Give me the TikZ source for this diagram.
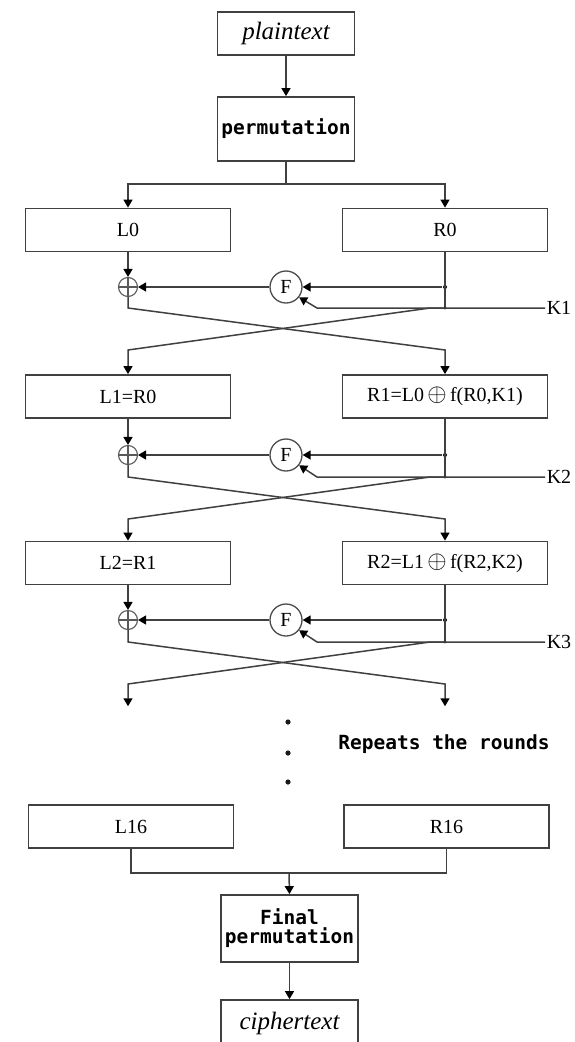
\documentclass[tikz,border=0pt]{standalone}
\usepackage{fontspec}
\setmainfont{Liberation Serif}
\newfontfamily\pixmono{DejaVu Sans Mono}
\usetikzlibrary{arrows.meta}
\newcommand{\bigxor}{{\fontsize{24}{24}\selectfont$\oplus$}}
\begin{document}
\begin{tikzpicture}[x=1pt,y=-1pt,
  line width=1.5pt,
  >={Triangle[width=9pt,length=8pt,fill=black,color=black]},
  link/.style={draw=black!75},
  rbox/.style={draw=black!75, line width=1.8pt, minimum width=205pt, minimum height=43pt, inner sep=0pt, font=\fontsize{20}{24}\selectfont},
  cbox/.style={draw=black!75, line width=1.8pt, minimum width=137pt, inner sep=0pt},
  mono/.style={font=\fontsize{19.5}{22}\selectfont\pixmono\bfseries},
  ital/.style={font=\fontsize{25}{28}\selectfont\itshape},
  xorc/.style={circle, draw=black!65, line width=1.1pt, minimum size=19pt, inner sep=0pt,
    path picture={\draw[line width=1.1pt, draw=black!65] (path picture bounding box.north) -- (path picture bounding box.south) (path picture bounding box.west) -- (path picture bounding box.east);}},
  fcirc/.style={circle, draw=black!70, line width=1.3pt, minimum size=32pt, inner sep=0pt, font=\fontsize{20}{24}\selectfont},
  klab/.style={anchor=west, inner sep=1pt, font=\fontsize{20}{24}\selectfont},
  dotn/.style={circle, fill=black, inner sep=0pt, minimum size=4pt},
  endpt/.style={inner sep=0pt, minimum size=0pt}
]
\useasboundingbox (0,0) rectangle (574,1042);
\clip (0,0) rectangle (574,1042);
\fill[white] (0,0) rectangle (574,1042);

% top
\node[cbox, minimum height=43pt, ital] (PT) at (286,33.5) {plaintext};
\node[cbox, minimum height=64pt, mono] (PM) at (286,129) {permutation};
\coordinate (S) at (286,184);

% round boxes
\node[rbox] (L0) at (128,230) {L0};
\node[rbox] (R0) at (445,230) {R0};
\node[rbox] (L1) at (128,396.5) {L1=R0};
\node[rbox] (R1) at (445,396.5) {R1=L0\,\bigxor\,f(R0,K1)};
\node[rbox] (L2) at (128,563) {L2=R1};
\node[rbox] (R2) at (445,563) {R2=L1\,\bigxor\,f(R2,K2)};
\node[endpt] (L3) at (128,707) {};
\node[endpt] (R3) at (445,707) {};

\draw[link,->] (PT.south) -- (PM.north);
\draw[link] (PM.south) -- (S);
\draw[link,->] (S) -| (L0.north);
\draw[link,->] (S) -| (R0.north);

\foreach \i/\j/\xy/\ky in {0/1/287/308, 1/2/455/477, 2/3/620/642} {
  \node[xorc] (X\j) at (128,\xy) {};
  \node[fcirc] (F\j) at (286,\xy) {F};
  \node[dotn] (D\j) at (445,\xy) {};
  \coordinate (J\j) at (445,\ky);
  \coordinate (B\j) at (317,\ky);
  \coordinate (C\j) at (128,\ky);
  \coordinate (E\j) at (430,\ky);
  \coordinate (P\j) at (445,\ky+42);
  \coordinate (Q\j) at (128,\ky+42);
  \node[klab] (K\j) at (545,\ky) {K\j};
  \draw[link,->] (L\i.south) -- (X\j.north);
  \draw[link] (R\i.south) -- (J\j);
  \fill[black!85] (J\j) circle (1.6pt);
  \draw[link,->] (D\j) -- (F\j.east);
  \draw[link,->] (F\j.west) -- (X\j.east);
  \draw[link,->] (K\j.west) -- (B\j) -- (F\j.-38);
  \draw[link,->] (X\j.south) -- (C\j) -- (P\j) -- (R\j.north);
  \draw[link,->] (J\j) -- (E\j) -- (Q\j) -- (L\j.north);
}

% repeats
\fill[black!90] (288,722) circle (2.6pt);
\fill[black!90] (288,753) circle (2.6pt);
\fill[black!90] (288,782) circle (2.6pt);
\node[mono] (RT) at (444,744) {Repeats the rounds};

% bottom
\node[rbox] (L16) at (131,826.5) {L16};
\node[rbox] (R16) at (446.5,826.5) {R16};
\coordinate (M) at (289,873);
\draw[link] (L16.south) |- (M) -| (R16.south);
\node[cbox, minimum height=67pt, mono, align=center] (FP) at (289.5,928.5) {Final\\[-3pt]permutation};
\draw[link,->] (M) -- (FP.north);
\node[cbox, minimum height=46pt, ital] (CT) at (289.5,1023) {ciphertext};
\draw[link,->] (FP.south) -- (CT.north);
\end{tikzpicture}
\end{document}
